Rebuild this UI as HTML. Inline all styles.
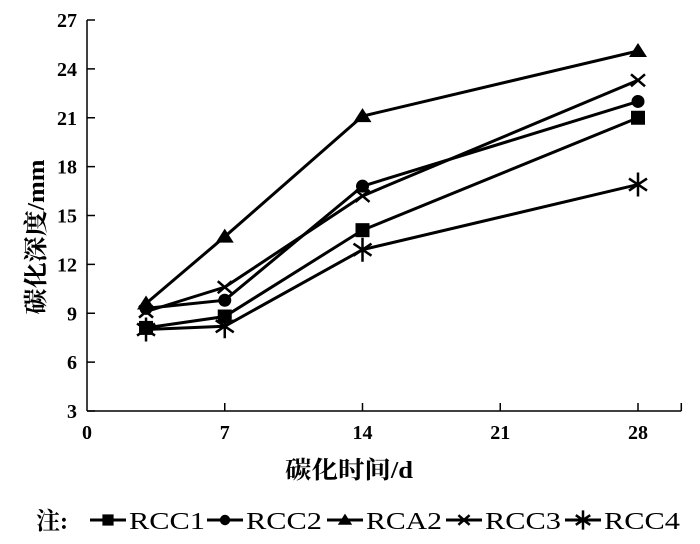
<!DOCTYPE html>
<html><head><meta charset="utf-8"><style>
html,body{margin:0;padding:0;background:#fff;}
svg text{font-family:"Liberation Serif","Noto Serif CJK SC",serif;fill:#000;}
</style></head><body>
<svg id="chart" width="700" height="539" xmlns="http://www.w3.org/2000/svg"></svg>
<script>
const xCategories=[3,7,14,28];
const seriesNames=["RCC1","RCC2","RCA2","RCC3","RCC4"];
const rcc1=[8.1,8.8,14.1,21.0];
const rcc2=[9.3,9.8,16.8,22.0];
const rca2=[9.6,13.7,21.1,25.1];
const rcc3=[9.1,10.6,16.2,23.3];
const rcc4=[8.0,8.2,12.9,16.9];
const markers=["square","circle","triangle","x","star"];
const yTicks=[3,6,9,12,15,18,21,24,27];
const xTicks=[0,7,14,21,28];

const svg=document.getElementById('chart');
const NS="http://www.w3.org/2000/svg";
const X0=87,XS=(638-87)/28,Y0=411,YS=(411-20)/24;
function xs(v){return X0+v*XS;}
function ys(v){return Y0-(v-3)*YS;}
function mk(tag,attrs,parent){const e=document.createElementNS(NS,tag);for(const k in attrs)e.setAttribute(k,attrs[k]);(parent||svg).appendChild(e);return e;}

const yAxis=mk('line',{x1:X0,y1:20,x2:X0,y2:Y0,stroke:'#000','stroke-width':1.5});


const xAxis=mk('line',{x1:X0,y1:Y0,x2:xs(30.2),y2:Y0,stroke:'#000','stroke-width':1.5});


mk('line',{x1:xs(30.2),y1:Y0,x2:xs(30.2),y2:Y0-8,stroke:'#000','stroke-width':1.5});

yTicks.forEach(t=>{
  mk('line',{x1:X0,y1:ys(t),x2:X0+8,y2:ys(t),stroke:'#000','stroke-width':1.5});
  const tx=mk('text',{x:X0-10,y:ys(t)+7,'text-anchor':'end','font-size':20,'font-weight':'bold'});
  tx.textContent=t;
  
  
});
xTicks.forEach(t=>{
  if(t>0)mk('line',{x1:xs(t),y1:Y0,x2:xs(t),y2:Y0-8,stroke:'#000','stroke-width':1.5});
  const tx=mk('text',{x:xs(t),y:Y0+28,'text-anchor':'middle','font-size':20,'font-weight':'bold'});
  tx.textContent=t;
  
  
});

function marker(type,cx,cy,g,s){
  s=s||1;
  if(type==='square')mk('rect',{x:cx-7*s,y:cy-7*s,width:14*s,height:14*s,fill:'#000'},g);
  else if(type==='circle')mk('circle',{cx:cx,cy:cy,r:6.5*s,fill:'#000'},g);
  else if(type==='triangle')mk('polygon',{points:`${cx},${cy-8*s} ${cx+9*s},${cy+6*s} ${cx-9*s},${cy+6*s}`,fill:'#000'},g);
  else if(type==='x'){mk('path',{d:`M${cx-7*s},${cy-6*s}L${cx+7*s},${cy+6*s}M${cx-7*s},${cy+6*s}L${cx+7*s},${cy-6*s}`,stroke:'#000','stroke-width':2.5},g);}
  else if(type==='star'){mk('path',{d:`M${cx},${cy-12*s}L${cx},${cy+12*s}M${cx-9*s},${cy-6*s}L${cx+9*s},${cy+6*s}M${cx-9*s},${cy+6*s}L${cx+9*s},${cy-6*s}`,stroke:'#000','stroke-width':2.5},g);}
}

const allSeries=[rcc1,rcc2,rca2,rcc3,rcc4];
allSeries.forEach((vals,i)=>{
  const g=mk('g',{});
  
  
  const pts=vals.map((v,j)=>xs(xCategories[j])+','+ys(v)).join(' ');
  mk('polyline',{points:pts,fill:'none',stroke:'#000','stroke-width':3},g);
  vals.forEach((v,j)=>marker(markers[i],xs(xCategories[j]),ys(v),g));
});

const yt=mk('text',{x:0,y:0,transform:'translate(44,237) rotate(-90)','text-anchor':'middle','font-size':24,'font-weight':'bold',textLength:155,lengthAdjust:'spacingAndGlyphs'});
yt.textContent='碳化深度/mm';


const xt=mk('text',{x:349,y:478,'text-anchor':'middle','font-size':24,'font-weight':'bold',textLength:128,lengthAdjust:'spacingAndGlyphs'});
xt.textContent='碳化时间/d';



const lg=mk('g',{});


const note=mk('text',{x:36,y:529,'font-size':24,'font-weight':'bold'},lg);
note.textContent='注:';
const legX=[90,207,327,446,565];
seriesNames.forEach((n,i)=>{
  const e=mk('g',{},lg);
  
  
  const lx=legX[i];
  mk('line',{x1:lx,y1:520,x2:lx+36,y2:520,stroke:'#000','stroke-width':3},e);
  marker(markers[i],lx+18,520,e,0.8);
  const t=mk('text',{x:lx+39,y:529,'font-size':24,textLength:76,lengthAdjust:'spacingAndGlyphs'},e);
  t.textContent=n;
});
</script>
</body></html>
